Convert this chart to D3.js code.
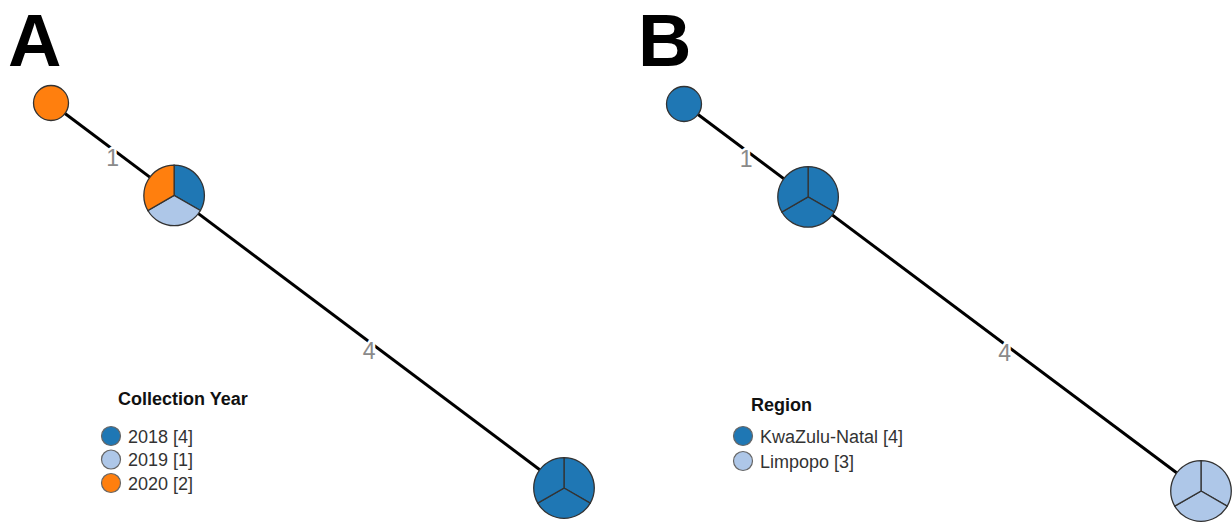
<!DOCTYPE html>
<html>
<head>
<meta charset="utf-8">
<script src="https://cdn.jsdelivr.net/npm/d3@7"></script>
<style>
  html, body { margin: 0; padding: 0; background: #fff; }
  svg { display: block; font-family: Arial, "Liberation Sans", sans-serif; }
  .panel-letter { font-weight: bold; font-size: 74px; fill: #000; }
  .edge-label { font-size: 23px; fill: #8a8a8a; stroke: #fff; stroke-width: 5px; paint-order: stroke; }
  .lg-title { font-weight: bold; font-size: 18px; fill: #111; }
  .lg-item { font-size: 18px; fill: #333; }
</style>
</head>
<body>
<div id="chart"></div>
<script>
/* Two minimum-spanning trees of the same three nodes, coloured by
   collection year (A) and by region (B). Nodes are pies of their members. */

// tree: three nodes on one branch, two edges with allelic distances
const nodeSizes = [1, 3, 3];
const nodeLayout = [0, 0.24, 1];          // relative position along the branch
const edgeSource = [0, 1];
const edgeTarget = [1, 2];
const edgeDistances = [1, 4];

// panel A: collection year
const yearCategories = ["2018", "2019", "2020"];
const yearCounts = [4, 1, 2];
const yearColors = ["#1f77b4", "#aec7e8", "#ff7f0e"];
const yearNodeMembers = [
  ["2020"],
  ["2018", "2019", "2020"],
  ["2018", "2018", "2018"]
];

// panel B: region
const regionCategories = ["KwaZulu-Natal", "Limpopo"];
const regionCounts = [4, 3];
const regionColors = ["#1f77b4", "#aec7e8"];
const regionNodeMembers = [
  ["KwaZulu-Natal"],
  ["KwaZulu-Natal", "KwaZulu-Natal", "KwaZulu-Natal"],
  ["Limpopo", "Limpopo", "Limpopo"]
];

const W = 1232, H = 529;
const svg = d3.select("#chart").append("svg").attr("width", W).attr("height", H);

const r = d3.scaleSqrt().domain([0, 3]).range([0, 30.3]);
const pie = d3.pie().sort(null).value(1);

function drawPanel(cfg) {
  const g = svg.append("g");
  const x = d3.scaleLinear().domain([0, 1]).range(cfg.xRange);
  const y = d3.scaleLinear().domain([0, 1]).range(cfg.yRange);
  const color = d3.scaleOrdinal().domain(cfg.categories).range(cfg.colors);

  g.append("text").attr("class", "panel-letter")
    .attr("x", cfg.letterX).attr("y", 66).text(cfg.letter);

  // edges
  const edges = edgeDistances.map((d, i) => ({ s: edgeSource[i], t: edgeTarget[i], d }));
  g.append("g").selectAll("line").data(edges).join("line")
    .attr("x1", (e) => x(nodeLayout[e.s])).attr("y1", (e) => y(nodeLayout[e.s]))
    .attr("x2", (e) => x(nodeLayout[e.t])).attr("y2", (e) => y(nodeLayout[e.t]))
    .attr("stroke", "#000").attr("stroke-width", 3);
  g.append("g").selectAll("text").data(edges).join("text")
    .attr("class", "edge-label").attr("text-anchor", "middle")
    .attr("x", (e) => x((nodeLayout[e.s] + nodeLayout[e.t]) / 2))
    .attr("y", (e) => y((nodeLayout[e.s] + nodeLayout[e.t]) / 2) + 17)
    .text((e) => e.d);

  // nodes as pies
  nodeSizes.forEach((n, i) => {
    const ng = g.append("g")
      .attr("transform", `translate(${x(nodeLayout[i])},${y(nodeLayout[i])})`);
    const arc = d3.arc().innerRadius(0).outerRadius(r(n));
    if (n === 1) {
      ng.append("circle").attr("r", r(n))
        .attr("fill", color(cfg.members[i][0])).attr("stroke", "#333").attr("stroke-width", 1.3);
    } else {
      ng.selectAll("path").data(pie(cfg.members[i])).join("path")
        .attr("d", arc).attr("fill", (d) => color(d.data))
        .attr("stroke", "#333").attr("stroke-width", 1.3);
    }
  });

  // legend
  const lg = g.append("g");
  lg.append("text").attr("class", "lg-title")
    .attr("x", cfg.legend.titleX).attr("y", cfg.legend.titleY).text(cfg.title);
  const rows = lg.selectAll("g.row").data(cfg.categories).join("g").attr("class", "row")
    .attr("transform", (d, i) => `translate(${cfg.legend.x},${cfg.legend.y + i * cfg.legend.step})`);
  rows.append("circle").attr("r", 9.5).attr("fill", (d) => color(d))
    .attr("stroke", "#666").attr("stroke-width", 1.2);
  rows.append("text").attr("class", "lg-item").attr("x", 17).attr("y", 6.5)
    .text((d, i) => `${d} [${cfg.counts[i]}]`);
}

drawPanel({
  letter: "A", letterX: 8,
  xRange: [51, 564], yRange: [103, 488],
  categories: yearCategories, colors: yearColors, counts: yearCounts,
  members: yearNodeMembers, title: "Collection Year",
  legend: { titleX: 118, titleY: 405, x: 111, y: 436, step: 23.5 }
});

drawPanel({
  letter: "B", letterX: 638,
  xRange: [684, 1201], yRange: [104, 491],
  categories: regionCategories, colors: regionColors, counts: regionCounts,
  members: regionNodeMembers, title: "Region",
  legend: { titleX: 751, titleY: 411, x: 743, y: 436, step: 25 }
});
</script>
</body>
</html>
